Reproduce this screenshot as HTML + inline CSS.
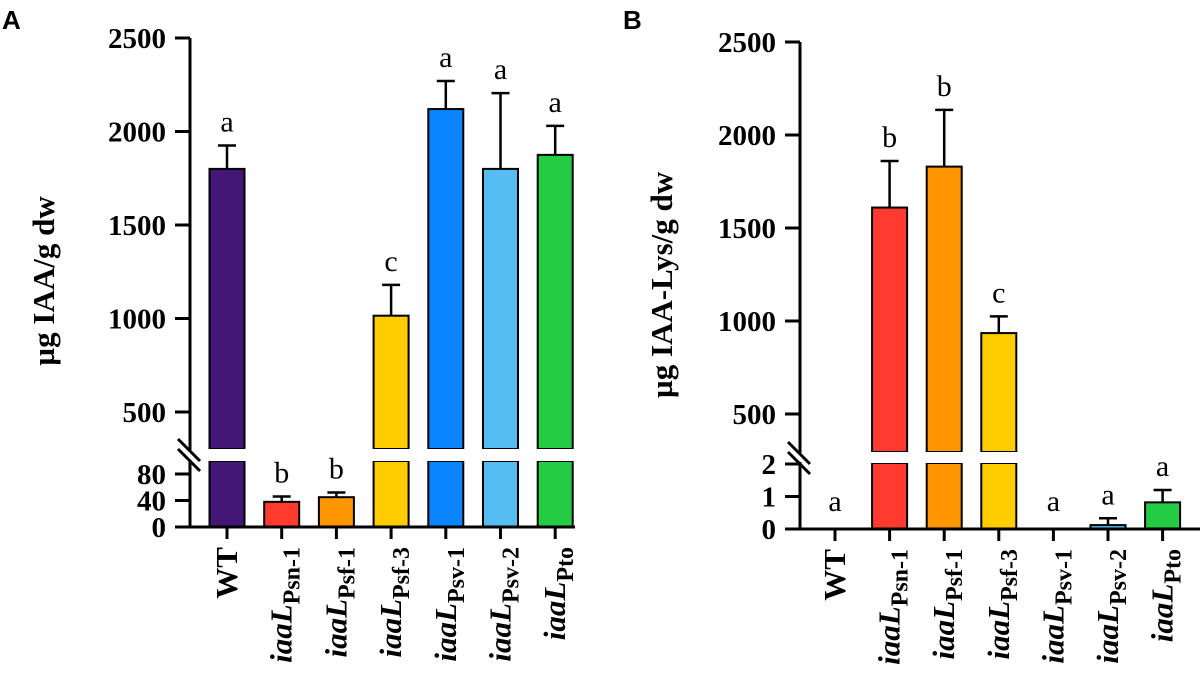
<!DOCTYPE html>
<html><head><meta charset="utf-8"><style>
body{margin:0;background:#fff}
svg text{font-family:"Liberation Serif",serif}
</style></head><body>
<svg id="c" width="1203" height="668" viewBox="0 0 1203 668" xmlns="http://www.w3.org/2000/svg"></svg>
<script>
const categories=["WT","Psn-1","Psf-1","Psf-3","Psv-1","Psv-2","Pto"];
const colors=["#421776","#ff3a2f","#ff9500","#ffcc00","#0a84ff","#56bdf2","#24cc44"];
const valuesA=[1800,38,45,1015,2120,1800,1875];
const errorsA=[125,8,7,165,150,405,155];
const lettersA=["a","b","b","c","a","a","a"];
const valuesB=[0,1610,1830,935,0,0.12,0.82];
const errorsB=[0,250,305,90,0,0.21,0.38];
const lettersB=["a","b","b","c","a","a","a"];
const upperTicks=[500,1000,1500,2000,2500];
const lowerTicksA=[0,40,80];
const lowerTicksB=[0,1,2];

const svg=document.getElementById('c');
const NS="http://www.w3.org/2000/svg";
function mk(tag,attrs,parent){const e=document.createElementNS(NS,tag);for(const k in attrs)e.setAttribute(k,attrs[k]);(parent||svg).appendChild(e);return e;}

function panel(cfg){
  const g=mk('g',{});
  
  
  const ax=cfg.axisX;
  const yU=v=>cfg.u500-(v-500)*cfg.uScale;
  const yL=v=>cfg.base-v*cfg.lScale;
  const lMax=(cfg.base-cfg.lTop)/cfg.lScale;
  const xC=i=>cfg.x0+i*cfg.step;
  const bw=35;
  cfg.values.forEach((v,i)=>{
    const x=xC(i)-bw/2;
    if(v<=0)return;
    const col=colors[i];
    if(v<=lMax){
      const r=mk('rect',{x:x,y:yL(v),width:bw,height:cfg.base-yL(v),fill:col,stroke:'#000','stroke-width':2},g);
      
      
      const et=yL(v+cfg.errors[i]);
      const e=mk('path',{d:`M${xC(i)} ${yL(v)}V${et}M${xC(i)-9} ${et}H${xC(i)+9}`,stroke:'#000','stroke-width':2.5,fill:'none'},g);
      
      
    }else{
      const r1=mk('rect',{x:x,y:cfg.lTop,width:bw,height:cfg.base-cfg.lTop,fill:col,stroke:'#000','stroke-width':2},g);
      
      
      const r2=mk('rect',{x:x,y:yU(v),width:bw,height:cfg.uBottom-yU(v),fill:col,stroke:'#000','stroke-width':2},g);
      
      
      mk('rect',{x:x-2,y:cfg.uBottom,width:bw+4,height:cfg.lTop-cfg.uBottom,fill:'#fff'},g);
      const et=yU(v+cfg.errors[i]);
      const e=mk('path',{d:`M${xC(i)} ${yU(v)}V${et}M${xC(i)-9} ${et}H${xC(i)+9}`,stroke:'#000','stroke-width':2.5,fill:'none'},g);
      
      
    }
  });
  cfg.letters.forEach((l,i)=>{
    const v=cfg.values[i],er=cfg.errors[i];
    let top=v<=lMax?yL(v+er):yU(v+er);
    if(v<=0)top=cfg.base-4;
    const t=mk('text',{x:xC(i),y:top-14,'text-anchor':'middle','font-size':30},g);
    t.textContent=l;
    
    
  });
  const yax=mk('path',{d:`M${ax} ${yU(2500)}V${cfg.uBottom+1}M${ax} ${cfg.lTop-1}V${cfg.base+1.5}`,stroke:'#000','stroke-width':3,fill:'none'},g);
  
  
  const br=mk('path',{d:`M${ax-12} ${cfg.uBottom-10}L${ax+10} ${cfg.uBottom+12}M${ax-12} ${cfg.uBottom}L${ax+10} ${cfg.uBottom+22}`,stroke:'#000','stroke-width':3,fill:'none'},g);
  
  
  upperTicks.forEach(v=>{
    mk('line',{x1:ax-15,x2:ax,y1:yU(v),y2:yU(v),stroke:'#000','stroke-width':3},g);
    const t=mk('text',{x:ax-24,y:yU(v)+10,'text-anchor':'end','font-size':29,'font-weight':'bold'},g);
    t.textContent=v;
    
    
  });
  cfg.lowerTicks.forEach(v=>{
    mk('line',{x1:ax-15,x2:ax,y1:yL(v),y2:yL(v),stroke:'#000','stroke-width':3},g);
    const t=mk('text',{x:ax-24,y:yL(v)+10,'text-anchor':'end','font-size':29,'font-weight':'bold'},g);
    t.textContent=v;
    
    
  });
  const xax=mk('line',{x1:ax-1.5,x2:cfg.xEnd,y1:cfg.base,y2:cfg.base,stroke:'#000','stroke-width':3},g);
  
  
  categories.forEach((c,i)=>{
    mk('line',{x1:xC(i),x2:xC(i),y1:cfg.base,y2:cfg.base+12,stroke:'#000','stroke-width':3},g);
    const t=mk('text',{transform:`translate(${xC(i)+10},${cfg.base+20}) rotate(-90)`,'text-anchor':'end','font-size':31,'font-weight':'bold'},g);
    
    
    if(c==="WT"){t.textContent="WT";}
    else{
      const a=mk('tspan',{'font-style':'italic'},t);a.textContent='iaaL';
      const s=mk('tspan',{'font-size':24,dy:8},t);s.textContent=c;
    }
  });
  const yt=mk('text',{transform:`translate(${cfg.titleX},${cfg.titleY}) rotate(-90)`,'text-anchor':'middle','font-size':31,'font-weight':'bold'},g);
  yt.textContent=cfg.title;
  
  
  const pl=mk('text',{x:cfg.labelX,y:29,'font-size':26,'font-weight':'bold',style:'font-family:"Liberation Sans",sans-serif'},g);
  pl.textContent=cfg.label;
  
  
}
panel({name:'panel-a',axisX:190,u500:412,uScale:0.187,uBottom:449,lTop:461,base:527,lScale:0.6625,
  x0:227,step:54.7,xEnd:575,values:valuesA,errors:errorsA,letters:lettersA,lowerTicks:lowerTicksA,
  title:'µg IAA/g dw',titleX:54,titleY:281,label:'A',labelX:2});
panel({name:'panel-b',axisX:800,u500:414,uScale:0.186,uBottom:452,lTop:463,base:529,lScale:32.5,
  x0:835,step:54.6,xEnd:1200,values:valuesB,errors:errorsB,letters:lettersB,lowerTicks:lowerTicksB,
  title:'µg IAA-Lys/g dw',titleX:672,titleY:285,label:'B',labelX:623});
</script>
</body></html>
